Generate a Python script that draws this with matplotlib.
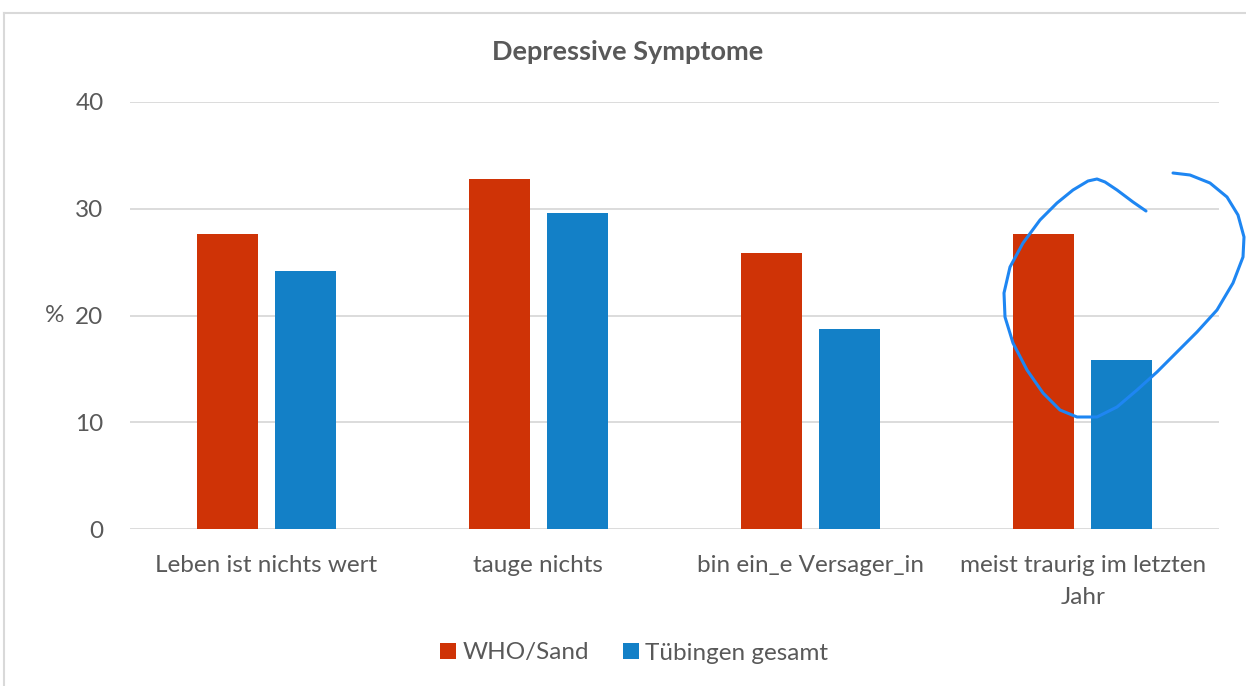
from matplotlib import pyplot as plt
from matplotlib.lines import Line2D
import numpy as np

# data
categories = ["Leben ist nichts wert", "tauge nichts", "bin ein_e Versager_in", "meist traurig im letzten\nJahr"]
who_sand = [27.6, 32.8, 25.9, 27.6]
tuebingen = [24.2, 29.6, 18.7, 15.8]
series_names = ["WHO/Sand", "Tübingen gesamt"]
yticks = [0, 10, 20, 30, 40]

red = "#CF3306"
blue = "#1380C7"
grey_text = "#595959"

plt.rcParams['font.family'] = ['Lato', 'DejaVu Sans']

fig = plt.figure(figsize=(12.46, 6.86), dpi=100)
ax = fig.add_axes([130/1246, 1-529/686, 1089/1246, 427/686])

x = np.arange(len(categories))
w = 0.224
ax.bar(x - 0.143, who_sand, w, color=red, label=series_names[0], zorder=3)
ax.bar(x + 0.143, tuebingen, w, color=blue, label=series_names[1], zorder=3)

ax.set_xlim(-0.5, len(categories) - 0.5)
ax.set_ylim(0, 40)
ax.set_yticks(yticks)
ax.yaxis.grid(True, color="#D9D9D9", linewidth=1.3, zorder=0)
ax.set_axisbelow(True)
for s in ax.spines.values():
    s.set_visible(False)
ax.tick_params(axis='both', length=0, labelsize=17.5, labelcolor=grey_text)
ax.tick_params(axis='y', pad=19)
ax.tick_params(axis='x', pad=19)
ax.set_xticks(x)
ax.set_xticklabels(categories, linespacing=1.6)

fig.text(45/1246, 1-316/686, "%", fontsize=17.5, color=grey_text, va='center', ha='left')
fig.text(628/1246, 1-52/686, "Depressive Symptome", fontsize=19.5, fontweight='bold',
         color=grey_text, ha='center', va='center')

fig.legend(loc='center', bbox_to_anchor=(634/1246, 1-653/686), ncol=2, frameon=False,
           fontsize=17.5, labelcolor=grey_text, handlelength=0.65, handleheight=0.65,
           handletextpad=0.25, columnspacing=1.4)

# frame of the chart area (left and top edge visible)
fig.add_artist(Line2D([4/1246, 4/1246], [0, 1-13/686], color="#D9D9D9", lw=1.5))
fig.add_artist(Line2D([4/1246, 1], [1-13/686, 1-13/686], color="#D9D9D9", lw=1.5))

# hand-drawn circle annotation (figure pixels, origin top-left)
loop_x = [1146, 1133, 1117, 1105, 1097, 1088, 1073, 1057, 1040, 1023, 1010, 1004, 1005,
          1013, 1027, 1043, 1060, 1077, 1097, 1117, 1137, 1157, 1177, 1197, 1217, 1233,
          1243, 1244, 1238, 1227, 1210, 1190, 1173]
loop_y = [211, 202, 190, 182, 179, 181, 190, 203, 220, 243, 267, 293, 317,
          343, 370, 393, 410, 417, 417, 407, 390, 372, 352, 332, 310, 283,
          257, 237, 215, 197, 183, 175, 173]
fig.add_artist(Line2D(np.array(loop_x)/1246, 1 - np.array(loop_y)/686,
                      color="#1E86F2", lw=2.2, solid_joinstyle='round', solid_capstyle='round'))

plt.savefig("out.png")
